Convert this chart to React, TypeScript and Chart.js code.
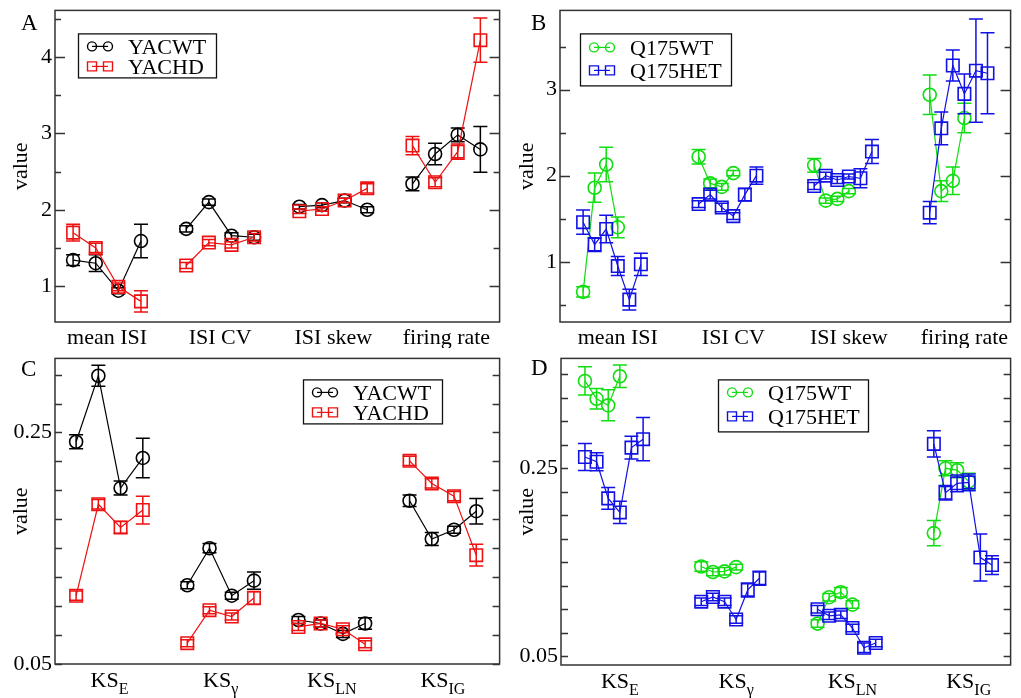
import React, { useEffect, useRef } from "react";
import { Chart, registerables } from "chart.js";

Chart.register(...registerables);

const FONT = "'Liberation Serif', 'Times New Roman', serif";

// ---------- categories / tick labels ----------
const topCategories = ["mean ISI", "ISI CV", "ISI skew", "firing rate"];
const ksMain = "KS";
const ksSubscripts = ["E", "γ", "LN", "IG"];
const yLabelsA = [1, 2, 3, 4];
const yLabelsB = [1, 2, 3];
const yLabelsC = [0.05, 0.25];
const yLabelsD = [0.05, 0.25];

// ---------- series names ----------
const yacWtName = "YACWT";
const yacHdName = "YACHD";
const q175WtName = "Q175WT";
const q175HetName = "Q175HET";

// ---------- Panel A (YAC, ISI statistics) ----------
const yacwtA = [1.34, 1.3, 0.94, 1.59, 1.75, 2.1, 1.66, 1.64, 2.04, 2.06, 2.12, 2.0, 2.34, 2.73, 2.98, 2.79];
const yacwtAErr = [0.07, 0.11, 0.04, 0.22, 0.04, 0.04, 0.04, 0.04, 0.03, 0.03, 0.03, 0.04, 0.09, 0.14, 0.09, 0.3];
const yachdA = [1.7, 1.5, 0.99, 0.8, 1.27, 1.57, 1.54, 1.64, 1.98, 2.01, 2.12, 2.28, 2.84, 2.36, 2.76, 4.22];
const yachdAErr = [0.11, 0.06, 0.05, 0.14, 0.04, 0.04, 0.04, 0.05, 0.03, 0.03, 0.03, 0.06, 0.12, 0.06, 0.1, 0.29];

// ---------- Panel B (Q175, ISI statistics) ----------
const q175wtB = [0.65, 1.86, 2.13, 1.4, 2.22, 1.91, 1.87, 2.03, 2.12, 1.71, 1.73, 1.82, 2.94, 1.82, 1.94, 2.67];
const q175wtBErr = [0.06, 0.17, 0.2, 0.12, 0.085, 0.05, 0.04, 0.03, 0.08, 0.03, 0.03, 0.03, 0.23, 0.12, 0.16, 0.17];
const q175hetB = [1.46, 1.2, 1.38, 0.95, 0.56, 0.97, 1.67, 1.78, 1.63, 1.53, 1.78, 2.0, 1.88, 2.0, 1.95, 1.99, 1.97, 2.28, 1.57, 2.55, 3.28, 2.95, 3.22, 3.19];
const q175hetBErr = [0.14, 0.08, 0.16, 0.11, 0.12, 0.13, 0.04, 0.05, 0.05, 0.04, 0.07, 0.1, 0.04, 0.04, 0.04, 0.03, 0.11, 0.14, 0.13, 0.19, 0.18, 0.23, 0.6, 0.47];

// ---------- Panel C (YAC, KS statistics) ----------
const yacwtC = [0.242, 0.299, 0.202, 0.228, 0.118, 0.15, 0.109, 0.122, 0.088, 0.085, 0.076, 0.085, 0.191, 0.158, 0.166, 0.182];
const yacwtCErr = [0.006, 0.009, 0.006, 0.017, 0.003, 0.004, 0.003, 0.0075, 0.003, 0.003, 0.003, 0.005, 0.005, 0.0056, 0.003, 0.011];
const yachdC = [0.109, 0.188, 0.168, 0.183, 0.068, 0.0965, 0.091, 0.107, 0.082, 0.085, 0.08, 0.067, 0.2255, 0.206, 0.195, 0.144];
const yachdCErr = [0.004, 0.004, 0.005, 0.012, 0.003, 0.003, 0.003, 0.0056, 0.003, 0.003, 0.003, 0.003, 0.004, 0.004, 0.004, 0.0094];

// ---------- Panel D (Q175, KS statistics) ----------
const q175wtD = [0.343, 0.324, 0.317, 0.348, 0.1455, 0.1396, 0.1403, 0.1448, 0.0847, 0.1128, 0.1181, 0.1049, 0.181, 0.25, 0.248, 0.236];
const q175wtDErr = [0.015, 0.011, 0.0165, 0.012, 0.005, 0.004, 0.004, 0.003, 0.004, 0.004, 0.005, 0.004, 0.0135, 0.008, 0.008, 0.0087];
const q175hetD = [0.262, 0.257, 0.218, 0.203, 0.272, 0.281, 0.108, 0.113, 0.108, 0.089, 0.1205, 0.133, 0.1, 0.093, 0.094, 0.08, 0.059, 0.064, 0.276, 0.224, 0.234, 0.235, 0.155, 0.147];
const q175hetDErr = [0.0144, 0.0095, 0.0116, 0.0118, 0.012, 0.023, 0.004, 0.004, 0.004, 0.004, 0.0075, 0.0075, 0.004, 0.004, 0.004, 0.004, 0.005, 0.004, 0.014, 0.0078, 0.009, 0.009, 0.025, 0.01];

// ---------- styling / layout ----------
const BLACK = "#000000";
const RED = "#ee1111";
const GREEN = "#11dd11";
const BLUE = "#1111e6";
const FRAME = "#333333";

const yacOffsets = [-0.3, -0.1, 0.1, 0.3];
const wtOffsets = [-0.3, -0.2, -0.1, 0];
const hetOffsets = [-0.3, -0.2, -0.1, 0, 0.1, 0.2];

type SeriesDef = {
  label: string;
  values: number[];
  errors: number[];
  color: string;
  marker: "circle" | "rect";
  offsets: number[];
};

type PanelDef = {
  letter: string;
  box: { left: number; top: number; width: number; height: number };
  area: { left: number; top: number; right: number; bottom: number };
  xMin: number;
  xMax: number;
  yMin: number;
  yMax: number;
  yLabels: number[];
  tickStep: number;
  allMajor: boolean;
  majorLen: number;
  minorLen: number;
  titlePad: number;
  ks: boolean;
  series: SeriesDef[];
  legend: { dx: number; dy: number; w: number; h: number; rows: number[] };
  letterPos: { dx: number; dy: number };
};

const panels: PanelDef[] = [
  {
    letter: "A",
    box: { left: 0, top: 0, width: 510, height: 348 },
    area: { left: 55, top: 7, right: 504, bottom: 322 },
    xMin: 0.54, xMax: 4.47, yMin: 0.53, yMax: 4.61,
    yLabels: yLabelsA, tickStep: 0.5, allMajor: false, majorLen: 10, minorLen: 6,
    titlePad: 8, ks: false,
    series: [
      { label: yacWtName, values: yacwtA, errors: yacwtAErr, color: BLACK, marker: "circle", offsets: yacOffsets },
      { label: yacHdName, values: yachdA, errors: yachdAErr, color: RED, marker: "rect", offsets: yacOffsets },
    ],
    legend: { dx: 23, dy: 23, w: 138, h: 44, rows: [13, 33] },
    letterPos: { dx: -34, dy: 20 },
  },
  {
    letter: "B",
    box: { left: 510, top: 0, width: 511, height: 348 },
    area: { left: 560, top: 7, right: 1012, bottom: 322 },
    xMin: 0.5, xMax: 4.4, yMin: 0.3, yMax: 3.92,
    yLabels: yLabelsB, tickStep: 0.5, allMajor: false, majorLen: 10, minorLen: 6,
    titlePad: 4, ks: false,
    series: [
      { label: q175WtName, values: q175wtB, errors: q175wtBErr, color: GREEN, marker: "circle", offsets: wtOffsets },
      { label: q175HetName, values: q175hetB, errors: q175hetBErr, color: BLUE, marker: "rect", offsets: hetOffsets },
    ],
    legend: { dx: 20, dy: 23, w: 151, h: 52, rows: [14, 37] },
    letterPos: { dx: -29, dy: 20 },
  },
  {
    letter: "C",
    box: { left: 0, top: 348, width: 510, height: 350 },
    area: { left: 55, top: 352, right: 506, bottom: 664 },
    xMin: 0.51, xMax: 4.51, yMin: 0.05, yMax: 0.314,
    yLabels: yLabelsC, tickStep: 0.025, allMajor: true, majorLen: 7, minorLen: 7,
    titlePad: 8, ks: true,
    series: [
      { label: yacWtName, values: yacwtC, errors: yacwtCErr, color: BLACK, marker: "circle", offsets: yacOffsets },
      { label: yacHdName, values: yachdC, errors: yachdCErr, color: RED, marker: "rect", offsets: yacOffsets },
    ],
    legend: { dx: 248, dy: 21, w: 139, h: 44, rows: [13, 33] },
    letterPos: { dx: -34, dy: 18 },
  },
  {
    letter: "D",
    box: { left: 510, top: 348, width: 511, height: 350 },
    area: { left: 561, top: 352, right: 1012, bottom: 665 },
    xMin: 0.494, xMax: 4.36, yMin: 0.0406, yMax: 0.367,
    yLabels: yLabelsD, tickStep: 0.025, allMajor: true, majorLen: 7, minorLen: 7,
    titlePad: 4, ks: true,
    series: [
      { label: q175WtName, values: q175wtD, errors: q175wtDErr, color: GREEN, marker: "circle", offsets: wtOffsets },
      { label: q175HetName, values: q175hetD, errors: q175hetDErr, color: BLUE, marker: "rect", offsets: hetOffsets },
    ],
    legend: { dx: 157, dy: 21, w: 150, h: 52, rows: [13, 37] },
    letterPos: { dx: -30, dy: 17 },
  },
];

function buildDatasets(series: SeriesDef[]) {
  const out: any[] = [];
  series.forEach((s, si) => {
    const n = s.offsets.length;
    for (let g = 0; g < topCategories.length; g++) {
      const vals = s.values.slice(g * n, g * n + n);
      const errs = s.errors.slice(g * n, g * n + n);
      out.push({
        label: s.label,
        data: vals.map((v, k) => ({ x: g + 1 + s.offsets[k], y: v })),
        errors: errs,
        borderColor: s.color,
        borderWidth: 1.2,
        pointStyle: s.marker,
        pointRadius: s.marker === "circle" ? 6.5 : 8.8,
        pointBorderColor: s.color,
        pointBackgroundColor: "rgba(0,0,0,0)",
        pointBorderWidth: 1.6,
        fill: false,
        tension: 0,
        order: series.length - si,
        clip: false,
      });
    }
  });
  return out;
}

function drawMarker(ctx: CanvasRenderingContext2D, marker: string, x: number, y: number, r: number, color: string) {
  ctx.save();
  ctx.strokeStyle = color;
  ctx.lineWidth = 1.4;
  ctx.beginPath();
  if (marker === "circle") {
    ctx.arc(x, y, r, 0, Math.PI * 2);
  } else {
    ctx.rect(x - r, y - r, 2 * r, 2 * r);
  }
  ctx.stroke();
  ctx.restore();
}

function makePlugin(def: PanelDef) {
  return {
    id: "panelDecor" + def.letter,
    afterDatasetDraw(chart: any, args: any) {
      const ds = chart.data.datasets[args.index];
      const errs: number[] = ds.errors || [];
      const yScale = chart.scales.y;
      const ctx: CanvasRenderingContext2D = chart.ctx;
      ctx.save();
      ctx.strokeStyle = ds.borderColor;
      ctx.lineWidth = 1.5;
      args.meta.data.forEach((el: any, k: number) => {
        const v = ds.data[k].y;
        const e = errs[k] || 0;
        const yTop = yScale.getPixelForValue(v + e);
        const yBot = yScale.getPixelForValue(v - e);
        const x = el.x;
        const cap = 7;
        ctx.beginPath();
        ctx.moveTo(x, yTop);
        ctx.lineTo(x, yBot);
        ctx.moveTo(x - cap, yTop);
        ctx.lineTo(x + cap, yTop);
        ctx.moveTo(x - cap, yBot);
        ctx.lineTo(x + cap, yBot);
        ctx.stroke();
      });
      ctx.restore();
    },
    afterDraw(chart: any) {
      const ctx: CanvasRenderingContext2D = chart.ctx;
      const a = chart.chartArea;
      const yScale = chart.scales.y;
      const xScale = chart.scales.x;
      ctx.save();
      // frame
      ctx.strokeStyle = FRAME;
      ctx.lineWidth = 1.5;
      ctx.strokeRect(a.left, a.top, a.right - a.left, a.bottom - a.top);
      // y ticks (inward, both sides)
      const step = def.tickStep;
      const start = Math.ceil(def.yMin / step - 1e-9);
      const end = Math.floor(def.yMax / step + 1e-9);
      ctx.beginPath();
      for (let i = start; i <= end; i++) {
        const v = i * step;
        const major = def.allMajor || def.yLabels.some((l) => Math.abs(l - v) < 1e-9);
        const len = major ? def.majorLen : def.minorLen;
        const y = Math.round(yScale.getPixelForValue(v)) + 0.5;
        ctx.moveTo(a.left, y);
        ctx.lineTo(a.left + len, y);
        ctx.moveTo(a.right, y);
        ctx.lineTo(a.right - len, y);
      }
      ctx.stroke();
      // x category labels
      ctx.fillStyle = "#000";
      ctx.textBaseline = "alphabetic";
      for (let g = 0; g < topCategories.length; g++) {
        const cx = xScale.getPixelForValue(g + 1);
        if (!def.ks) {
          ctx.font = `22px ${FONT}`;
          ctx.textAlign = "center";
          ctx.fillText(topCategories[g], cx, a.bottom + 22);
        } else {
          ctx.textAlign = "left";
          ctx.font = `22px ${FONT}`;
          const wMain = ctx.measureText(ksMain).width;
          ctx.font = `16px ${FONT}`;
          const wSub = ctx.measureText(ksSubscripts[g]).width;
          const x0 = cx - (wMain + wSub) / 2;
          ctx.font = `22px ${FONT}`;
          ctx.fillText(ksMain, x0, a.bottom + 23);
          ctx.font = `16px ${FONT}`;
          ctx.fillText(ksSubscripts[g], x0 + wMain, a.bottom + 30);
        }
      }
      // panel letter
      ctx.font = `23px ${FONT}`;
      ctx.textAlign = "left";
      ctx.fillText(def.letter, a.left + def.letterPos.dx, a.top + def.letterPos.dy);
      // legend
      const L = def.legend;
      const lx = a.left + L.dx;
      const ly = a.top + L.dy;
      ctx.fillStyle = "#fff";
      ctx.fillRect(lx, ly, L.w, L.h);
      ctx.strokeStyle = "#111";
      ctx.lineWidth = 1.3;
      ctx.strokeRect(lx + 0.5, ly + 0.5, L.w, L.h);
      def.series.forEach((s, i) => {
        const ry = ly + L.rows[i];
        const x1 = lx + 14;
        const x2 = lx + 30;
        ctx.strokeStyle = s.color;
        ctx.lineWidth = 1.2;
        ctx.beginPath();
        ctx.moveTo(x1, ry);
        ctx.lineTo(x2, ry);
        ctx.stroke();
        drawMarker(ctx, s.marker, x1, ry, 4.5, s.color);
        drawMarker(ctx, s.marker, x2, ry, 4.5, s.color);
        ctx.fillStyle = "#000";
        ctx.font = `22px ${FONT}`;
        ctx.textAlign = "left";
        ctx.fillText(s.label, lx + 50, ry + 7.5);
      });
      ctx.restore();
    },
  };
}

function Panel({ def }: { def: PanelDef }) {
  const ref = useRef<HTMLCanvasElement | null>(null);
  useEffect(() => {
    if (!ref.current) return;
    const yWidth = def.area.left - def.box.left;
    const padTop = def.area.top - def.box.top;
    const padRight = def.box.left + def.box.width - def.area.right;
    const xHeight = def.box.top + def.box.height - def.area.bottom;
    const chart = new Chart(ref.current, {
      type: "line",
      data: { datasets: buildDatasets(def.series) },
      options: {
        animation: false,
        responsive: false,
        maintainAspectRatio: false,
        events: [],
        layout: { padding: { left: 0, top: padTop, right: padRight, bottom: 0 } },
        plugins: { legend: { display: false }, tooltip: { enabled: false } },
        scales: {
          x: {
            type: "linear",
            min: def.xMin,
            max: def.xMax,
            grid: { display: false, drawTicks: false },
            border: { display: false },
            ticks: { display: false },
            afterFit: (s: any) => {
              s.height = xHeight;
              s.paddingLeft = 0;
              s.paddingRight = 0;
              s.paddingTop = 0;
              s.paddingBottom = 0;
            },
          },
          y: {
            type: "linear",
            min: def.yMin,
            max: def.yMax,
            grid: { display: false, drawTicks: false },
            border: { display: false },
            afterBuildTicks: (s: any) => {
              s.ticks = def.yLabels.map((v) => ({ value: v }));
            },
            ticks: {
              padding: 3,
              color: "#000",
              font: { family: FONT, size: 22 },
              callback: (v: any) => String(v),
            },
            title: {
              display: true,
              text: "value",
              color: "#000",
              font: { family: FONT, size: 22 },
              padding: { top: def.titlePad, bottom: 0 },
            },
            afterFit: (s: any) => {
              s.width = yWidth;
              s.paddingTop = 0;
              s.paddingBottom = 0;
              s.paddingLeft = 0;
              s.paddingRight = 0;
            },
          },
        },
      } as any,
      plugins: [makePlugin(def)],
    });
    return () => chart.destroy();
  }, [def]);
  return (
    <canvas
      ref={ref}
      width={def.box.width}
      height={def.box.height}
      style={{
        position: "absolute",
        left: def.box.left,
        top: def.box.top,
        width: def.box.width,
        height: def.box.height,
      }}
    />
  );
}

export default function App() {
  return (
    <div style={{ position: "absolute", left: 0, top: 0, width: 1021, height: 698, background: "#fff" }}>
      {panels.map((p) => (
        <Panel key={p.letter} def={p} />
      ))}
    </div>
  );
}
